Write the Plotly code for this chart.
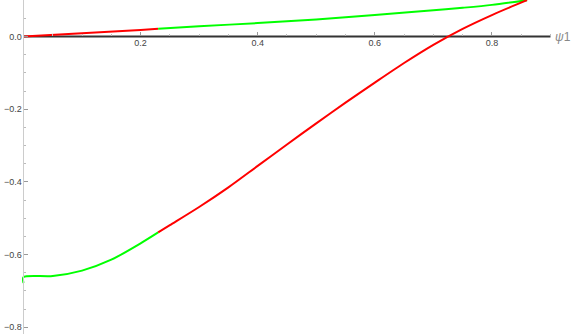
import plotly.graph_objects as go

# Upper branch
psi_upper = [0.0, 0.1, 0.2, 0.23, 0.3, 0.4, 0.5, 0.6, 0.7, 0.75, 0.8, 0.86]
val_upper = [0.0, 0.009, 0.018, 0.021, 0.028, 0.037, 0.047, 0.059, 0.072, 0.079, 0.087, 0.100]

# Lower branch
psi_lower = [0.0, 0.0, 0.05, 0.1, 0.15, 0.2, 0.23, 0.25, 0.3, 0.35, 0.4, 0.45, 0.5, 0.55, 0.6, 0.65, 0.7, 0.75, 0.8, 0.86]
val_lower = [-0.678, -0.662, -0.659, -0.644, -0.614, -0.569, -0.539, -0.519, -0.469, -0.415, -0.356, -0.297, -0.239, -0.182, -0.127, -0.073, -0.023, 0.021, 0.059, 0.100]

split = 0.23
x_tick_vals = [0.2, 0.4, 0.6, 0.8]
y_tick_vals = [-0.8, -0.6, -0.4, -0.2, 0.0]

RED = "#ff0000"
GREEN = "#00ff00"


def segment(xs, ys, lo, hi):
    px, py = [], []
    for a, b in zip(xs, ys):
        if lo - 1e-9 <= a <= hi + 1e-9:
            px.append(a)
            py.append(b)
    return px, py


fig = go.Figure()
for xs, ys, c_lo, c_hi in [(psi_upper, val_upper, RED, GREEN), (psi_lower, val_lower, GREEN, RED)]:
    ax, ay = segment(xs, ys, 0, split)
    bx, by = segment(xs, ys, split, 1)
    fig.add_trace(go.Scatter(x=ax, y=ay, mode="lines", line=dict(color=c_lo, width=2, shape="spline", smoothing=0.8), hoverinfo="skip"))
    fig.add_trace(go.Scatter(x=bx, y=by, mode="lines", line=dict(color=c_hi, width=2, shape="spline", smoothing=0.8), hoverinfo="skip"))

xr = [-0.0401, 0.9419]
yr = [-0.8184, 0.1004]
ypos = (0 - yr[0]) / (yr[1] - yr[0])
xpos = (0 - xr[0]) / (xr[1] - xr[0])

minor_x = [round(0.05 * i, 2) for i in range(1, 19) if round(0.05 * i, 2) not in x_tick_vals]
minor_y = [round(-0.05 * i, 2) for i in range(-2, 17) if round(-0.05 * i, 2) not in y_tick_vals]

fig.update_layout(
    width=575, height=334, autosize=False,
    margin=dict(l=0, r=0, t=0, b=0),
    plot_bgcolor="white", paper_bgcolor="white",
    showlegend=False,
    hovermode=False,
    font=dict(family="Liberation Sans, Arial, sans-serif", size=9, color="#444444"),
    xaxis=dict(
        range=xr, anchor="free", position=ypos, side="bottom",
        showgrid=False, zeroline=False, showline=False,
        tickmode="array", tickvals=x_tick_vals, ticktext=["0.2", "0.4", "0.6", "0.8"],
        ticks="inside", ticklen=4, tickwidth=1, tickcolor="#999999",
        minor=dict(tickmode="array", tickvals=minor_x, ticks="inside", ticklen=2, tickcolor="#bbbbbb", showgrid=False),
    ),
    yaxis=dict(
        range=yr, anchor="free", position=xpos, side="left",
        showgrid=False, zeroline=False, showline=True, linecolor="#cccccc", linewidth=1,
        tickmode="array", tickvals=y_tick_vals, ticktext=["−0.8", "−0.6", "−0.4", "−0.2", "0.0"],
        ticks="inside", ticklen=4, tickwidth=1, tickcolor="#999999",
        minor=dict(tickmode="array", tickvals=minor_y, ticks="inside", ticklen=2, tickcolor="#bbbbbb", showgrid=False),
    ),
    shapes=[dict(type="line", xref="x", yref="y", x0=0, x1=0.9, y0=0, y1=0,
                 line=dict(color="#333333", width=2), layer="below")],
    annotations=[dict(x=0.905, y=0, xref="x", yref="y", text="<i>ψ</i>1", showarrow=False,
                      xanchor="left", yanchor="middle", font=dict(size=12, color="#888888"))],
)

fig.write_html("out.html", config={"displayModeBar": False, "staticPlot": True},
               post_script="document.body.style.margin='0';document.body.style.overflow='hidden';")
